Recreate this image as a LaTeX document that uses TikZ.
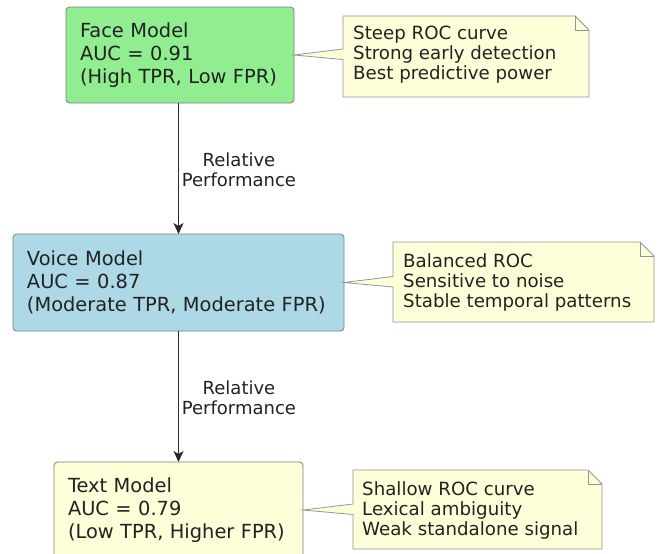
\documentclass[tikz,border=0pt]{standalone}
\usepackage{fontspec}
\setmainfont{DejaVu Sans}
\usetikzlibrary{arrows.meta,calc}

\definecolor{facegreen}{HTML}{90EE90}
\definecolor{voiceblue}{HTML}{ADD8E6}
\definecolor{paleyellow}{HTML}{FEFED8}
\definecolor{boxline}{HTML}{7E7E7E}
\definecolor{noteline}{HTML}{949494}
\definecolor{inktext}{HTML}{222222}
\definecolor{inkline}{HTML}{2A2A2A}

\tikzset{
  model/.style={draw=boxline, line width=0.8pt, rounded corners=3.5pt,
    anchor=north west, inner xsep=14pt, inner ysep=0pt, outer sep=0pt,
    minimum height=96pt, align=left, text=inktext,
    font=\fontsize{19.4}{23}\selectfont},
  noteframe/.style={draw=noteline, line width=0.8pt, fill=paleyellow, line join=miter},
  notetext/.style={anchor=base west, inner sep=0pt, align=left, text=inktext,
    font=\fontsize{18.2}{19.8}\selectfont},
  noteslot/.style={anchor=north west, inner sep=0pt, outer sep=0pt},
  flow/.style={draw=inkline, line width=0.9pt,
    -{Stealth[length=11pt, width=10pt, inset=3pt]}},
  flowlabel/.style={anchor=west, inner sep=0pt, align=center, text=inktext,
    font=\fontsize{18}{20}\selectfont}
}

% draws a note with a folded corner and a pointer tail towards #2
\newcommand{\drawnote}[2]{%
  \path[noteframe]
    (#1.north west) -- ($(#1.north east)+(-14,0)$) -- ($(#1.north east)+(0,14)$)
    -- (#1.south east) -- (#1.south west)
    -- ($(#1.west |- #2.east)+(0,4.5)$) -- (#2.east)
    -- ($(#1.west |- #2.east)+(0,-6)$) -- cycle;
  \draw[noteline, line width=0.8pt, line join=miter]
    ($(#1.north east)+(-14,0)$) -- ($(#1.north east)+(-14,14)$)
    -- ($(#1.north east)+(0,14)$);
}

\begin{document}
\begin{tikzpicture}[x=1pt, y=-1pt]
  \useasboundingbox (0,0) rectangle (664,554);

  % model boxes
  \node[model, fill=facegreen, text width=200pt] (face) at (66,7)
    {Face Model\\AUC = 0.91\\(High TPR, Low FPR)};
  \node[model, fill=voiceblue, text width=303pt, minimum height=97pt] (voice) at (13,234)
    {Voice Model\\AUC = 0.87\\(Moderate TPR, Moderate FPR)};
  \node[model, fill=paleyellow, text width=221pt] (textm) at (54,462)
    {Text Model\\AUC = 0.79\\(Low TPR, Higher FPR)};

  % note areas
  \node[noteslot, minimum width=246pt, minimum height=81pt] (n1) at (343,16) {};
  \node[noteslot, minimum width=261pt, minimum height=80pt] (n2) at (393,242) {};
  \node[noteslot, minimum width=249pt, minimum height=79pt] (n3) at (353,470) {};

  \drawnote{n1}{face}
  \drawnote{n2}{voice}
  \drawnote{n3}{textm}

  % note texts, placed by the baseline of their last line
  \node[notetext] (t1) at ($(n1.north west)+(10,63)$)
    {Steep ROC curve\\Strong early detection\\Best predictive power};
  \node[notetext] (t2) at ($(n2.north west)+(10,65)$)
    {Balanced ROC\\Sensitive to noise\\Stable temporal patterns};
  \node[notetext] (t3) at ($(n3.north west)+(9,65)$)
    {Shallow ROC curve\\Lexical ambiguity\\Weak standalone signal};

  % connectors
  \draw[flow] (face.south -| voice.north) -- (voice.north)
    node[flowlabel, pos=0.5, xshift=3pt, yshift=-1.5pt] (l1) {Relative\\Performance};
  \draw[flow] (voice.south) -- (textm.north -| voice.south)
    node[flowlabel, pos=0.5, xshift=3pt, yshift=-1.5pt] (l2) {Relative\\Performance};
\end{tikzpicture}
\end{document}
